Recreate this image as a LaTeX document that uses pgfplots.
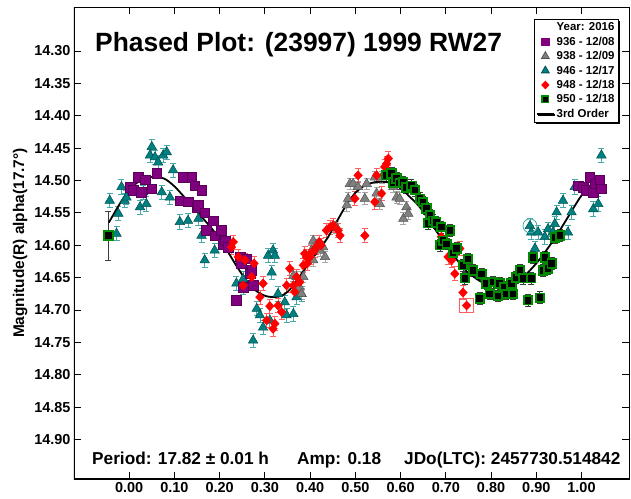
\documentclass[border=0pt]{standalone}
\usepackage{fontspec}
\setmainfont{Liberation Sans}
\usepackage{pgfplots}
\pgfplotsset{compat=1.18}
\usetikzlibrary{shadows}
\definecolor{purp}{RGB}{128,0,128}
\definecolor{purpE}{RGB}{190,120,190}
\definecolor{grayF}{RGB}{128,128,128}
\definecolor{grayD}{RGB}{85,85,85}
\definecolor{grayE}{RGB}{165,165,165}
\definecolor{tealF}{RGB}{0,128,128}
\definecolor{tealD}{RGB}{0,80,80}
\definecolor{tealE}{RGB}{70,170,170}
\definecolor{redF}{RGB}{255,0,0}
\definecolor{redE}{RGB}{255,95,95}
\definecolor{grn}{RGB}{0,140,0}
\definecolor{grnE}{RGB}{60,60,60}
\newcommand\fs[1]{\fontsize{#1}{#1}\selectfont\bfseries}

\begin{document}
\begin{tikzpicture}
\begin{axis}[
  scale only axis, width=555bp, height=472bp,
  xmin=-0.122, xmax=1.105, ymin=14.232, ymax=14.961, y dir=reverse,
  xtick={0,0.1,0.2,0.3,0.4,0.5,0.6,0.7,0.8,0.9,1.0},
  ytick={14.30,14.35,14.40,14.45,14.50,14.55,14.60,14.65,14.70,14.75,14.80,14.85,14.90},
  scaled ticks=false,
  tick align=inside, major tick length=7bp,
  tick style={black, line width=0.8bp},
  axis line style={line width=0.8bp},
  /pgf/number format/assume math mode=true,
  xticklabel style={/pgf/number format/.cd, fixed, fixed zerofill, precision=2},
  yticklabel style={/pgf/number format/.cd, fixed, fixed zerofill, precision=2},
  tick label style={font=\fs{14.5}},
  ylabel={Magnitude(R) alpha(17.7°)},
  ylabel style={font=\fs{15.5}},
  legend cell align=left,
  legend style={at={(axis description cs:1,1)}, anchor=north east, xshift=-10bp, yshift=-12bp,
    draw=black, line width=0.8bp, fill=white, font=\fs{11.5},
    inner xsep=2bp, inner ysep=1.5bp, row sep=0.6bp,
    drop shadow={shadow xshift=1.5bp, shadow yshift=-1.5bp, fill=black, opacity=1},
    legend image code/.code={\draw[#1,mark repeat=2,mark phase=2] plot coordinates {(0bp,0bp) (8.5bp,0bp) (17bp,0bp)};}},
]
\addlegendimage{empty legend}\addlegendentry{Year: 2016}
\addlegendimage{only marks, mark=square*, mark size=3.8bp, mark options={fill=purp, draw=purp}}\addlegendentry{936 - 12/08}
\addlegendimage{only marks, mark=triangle*, mark size=4.5bp, mark options={fill=grayF, draw=grayD}}\addlegendentry{938 - 12/09}
\addlegendimage{only marks, mark=triangle*, mark size=4.5bp, mark options={fill=tealF, draw=tealD}}\addlegendentry{946 - 12/17}
\addlegendimage{only marks, mark=diamond*, mark size=3.8bp, mark options={fill=redF, draw=redF, xscale=1.25}}\addlegendentry{948 - 12/18}
\addlegendimage{only marks, mark=square*, mark size=3.3bp, mark options={fill=black, draw=grn, line width=1.5bp}}\addlegendentry{950 - 12/18}
\addlegendimage{black, line width=1.6bp}\addlegendentry{3rd Order}

% 946 - 12/17
\addplot[forget plot, only marks, mark=triangle*, mark size=5.5bp,
  mark options={fill=tealF, draw=tealD, line width=0.5bp},
  error bars/.cd, y dir=both, y fixed=0.011,
  error bar style={tealE, line width=0.8bp},
  error mark options={tealE, mark size=3bp, line width=0.8bp, rotate=90}]
coordinates {
(-0.043,14.531) (-0.028,14.582) (-0.024,14.551) (-0.017,14.510) (-0.010,14.531)
(-0.006,14.526) (0.024,14.541) (0.031,14.518) (0.038,14.536) (0.046,14.461)
(0.050,14.448) (0.057,14.464) (0.064,14.472) (0.072,14.518) (0.075,14.461)
(0.083,14.456) (0.090,14.526) (0.097,14.484) (0.112,14.564) (0.130,14.562)
(0.153,14.559) (0.160,14.585) (0.167,14.623) (0.189,14.608) (0.237,14.659)
(0.252,14.652) (0.252,14.665) (0.274,14.747) (0.282,14.698) (0.289,14.708)
(0.296,14.727) (0.307,14.616) (0.311,14.716) (0.315,14.642) (0.318,14.608)
(0.322,14.616) (0.329,14.675) (0.344,14.688) (0.348,14.708) (0.363,14.706)
(0.370,14.680) (0.381,14.675)
(0.886,14.570) (0.889,14.580) (0.897,14.605) (0.904,14.580) (0.919,14.587)
(0.926,14.575) (0.937,14.580) (0.941,14.567) (0.945,14.549) (0.959,14.531)
(0.970,14.580) (0.978,14.549) (0.985,14.510) (1.026,14.544) (1.037,14.536)
(1.044,14.461)
};

% 938 - 12/09
\addplot[forget plot, only marks, mark=triangle*, mark size=5.5bp,
  mark options={fill=grayF, draw=grayD, line width=0.5bp},
  error bars/.cd, y dir=both, y fixed=0.009,
  error bar style={grayE, line width=0.8bp},
  error mark options={grayE, mark size=3bp, line width=0.8bp, rotate=90}]
coordinates {
(0.363,14.647) (0.370,14.649) (0.377,14.665) (0.381,14.675) (0.385,14.649)
(0.403,14.608) (0.407,14.593) (0.407,14.623) (0.414,14.600) (0.422,14.608)
(0.429,14.603) (0.433,14.618) (0.458,14.572) (0.481,14.538) (0.484,14.528)
(0.488,14.505) (0.495,14.505) (0.506,14.510) (0.521,14.528) (0.525,14.505)
(0.543,14.495) (0.547,14.520) (0.554,14.536) (0.558,14.495) (0.584,14.510)
(0.591,14.526) (0.598,14.528) (0.606,14.559) (0.613,14.541) (0.617,14.551)
};

% 936 - 12/08
\addplot[forget plot, only marks, mark=square*, mark size=4.8bp,
  mark options={fill=purp, draw=purp!70!black, line width=0.5bp},
  error bars/.cd, y dir=both, y fixed=0.006,
  error bar style={purpE, line width=0.8bp},
  error mark options={purpE, mark size=3bp, line width=0.8bp, rotate=90}]
coordinates {
(0.002,14.510) (0.009,14.515) (0.020,14.495) (0.027,14.518) (0.035,14.499)
(0.050,14.513) (0.061,14.489) (0.112,14.531) (0.119,14.495) (0.130,14.533)
(0.138,14.495) (0.145,14.508) (0.149,14.541) (0.153,14.538) (0.160,14.515)
(0.167,14.550) (0.171,14.577) (0.186,14.562) (0.189,14.585) (0.204,14.577)
(0.208,14.598) (0.212,14.593) (0.219,14.603) (0.237,14.685) (0.245,14.618)
(0.248,14.628) (0.252,14.665) (0.260,14.621) (0.267,14.644) (0.271,14.639)
(0.274,14.662)
(0.993,14.508) (1.004,14.510) (1.011,14.515) (1.018,14.495) (1.026,14.518)
(1.029,14.505) (1.040,14.500) (1.044,14.513)
};

% 948 - 12/18
\addplot[forget plot, only marks, mark=diamond*, mark size=4.6bp,
  mark options={fill=redF, draw=redF, line width=0.4bp, xscale=1.25},
  error bars/.cd, y dir=both, y fixed=0.011,
  error bar style={redE, line width=0.8bp},
  error mark options={redE, mark size=3bp, line width=0.8bp, rotate=90}]
coordinates {
(0.226,14.603) (0.230,14.595) (0.241,14.618) (0.252,14.662) (0.256,14.623)
(0.271,14.649) (0.276,14.628) (0.289,14.680) (0.296,14.659) (0.304,14.716)
(0.311,14.694) (0.318,14.729) (0.322,14.721) (0.329,14.693) (0.337,14.703)
(0.348,14.662) (0.355,14.636) (0.363,14.662) (0.366,14.672) (0.370,14.649)
(0.377,14.657) (0.385,14.631) (0.388,14.613) (0.392,14.618) (0.394,14.628)
(0.400,14.618) (0.403,14.611) (0.410,14.608) (0.414,14.603) (0.420,14.595)
(0.424,14.600) (0.436,14.577) (0.444,14.572) (0.451,14.569) (0.462,14.577)
(0.466,14.585) (0.499,14.528) (0.506,14.492) (0.521,14.585) (0.543,14.533)
(0.547,14.492) (0.558,14.520) (0.565,14.479) (0.569,14.474) (0.573,14.466)
(0.690,14.587) (0.694,14.595) (0.705,14.618) (0.709,14.618) (0.713,14.623)
(0.720,14.644) (0.731,14.605) (0.738,14.673) (0.746,14.693)
};

% 950 - 12/18
\addplot[forget plot, only marks, mark=square*, mark size=4.2bp,
  mark options={fill=black, draw=grn, line width=1.9bp},
  error bars/.cd, y dir=both, y fixed=0.009,
  error bar style={grnE, line width=0.8bp},
  error mark options={grnE, mark size=3bp, line width=0.8bp, rotate=90}]
coordinates {
(0.569,14.492) (0.580,14.489) (0.584,14.503) (0.591,14.497) (0.598,14.504)
(0.606,14.503) (0.613,14.511) (0.624,14.508) (0.632,14.515) (0.643,14.528)
(0.650,14.533) (0.657,14.543) (0.661,14.566) (0.665,14.553) (0.672,14.562)
(0.679,14.565) (0.687,14.600) (0.690,14.572) (0.694,14.593) (0.702,14.598)
(0.709,14.577) (0.716,14.612) (0.724,14.605) (0.738,14.631) (0.742,14.651)
(0.749,14.621) (0.760,14.639) (0.775,14.682) (0.779,14.644) (0.790,14.659)
(0.797,14.675) (0.805,14.657) (0.816,14.678) (0.819,14.659) (0.830,14.665)
(0.834,14.675) (0.845,14.659) (0.849,14.675) (0.856,14.650) (0.864,14.639)
(0.871,14.651) (0.882,14.685) (0.889,14.651) (0.893,14.619) (0.908,14.681)
(0.915,14.639) (0.919,14.619) (0.926,14.636) (0.934,14.628) (0.941,14.588)
(0.952,14.585)
};
\addplot[forget plot, only marks, mark=square*, mark size=4.2bp,
  mark options={fill=black, draw=grn, line width=1.9bp},
  error bars/.cd, y dir=both, y fixed=0.038,
  error bar style={grnE, line width=0.8bp},
  error mark options={grnE, mark size=3bp, line width=0.8bp, rotate=90}]
coordinates {(-0.046,14.585)};

% outlier rings
\addplot[forget plot, only marks, mark=square, mark size=7bp, mark options={draw=redE, line width=0.8bp}]
coordinates {(0.746,14.693)};
\addplot[forget plot, only marks, mark=o, mark size=7bp, mark options={draw=tealE, line width=0.8bp}]
coordinates {(0.886,14.570)};

% 3rd order fit
\addplot[forget plot, black, line width=1.8bp, smooth] coordinates {
(-0.045,14.565) (-0.02,14.535) (0.00,14.515) (0.02,14.502) (0.04,14.496)
(0.06,14.494) (0.08,14.498) (0.10,14.509) (0.12,14.524) (0.14,14.540)
(0.16,14.556) (0.18,14.572) (0.20,14.590) (0.22,14.612) (0.24,14.635)
(0.26,14.655) (0.28,14.670) (0.30,14.678) (0.32,14.680) (0.34,14.677)
(0.36,14.665) (0.38,14.645) (0.40,14.625) (0.42,14.607) (0.44,14.587)
(0.46,14.562) (0.48,14.538) (0.50,14.519) (0.52,14.508) (0.54,14.503)
(0.56,14.502) (0.58,14.504) (0.60,14.512) (0.62,14.525) (0.64,14.539)
(0.66,14.558) (0.68,14.579) (0.70,14.599) (0.72,14.618) (0.74,14.636)
(0.76,14.648) (0.78,14.657) (0.80,14.662) (0.82,14.665) (0.84,14.664)
(0.86,14.655) (0.88,14.643) (0.90,14.628) (0.92,14.610) (0.94,14.590)
(0.96,14.568) (0.98,14.545) (1.00,14.523) (1.02,14.507) (1.045,14.497)
};

\draw[line width=2bp] (axis description cs:0,1) -- (axis description cs:0,0) -- (axis description cs:1,0);
\node[anchor=base west, inner sep=0pt, font=\fs{26.5}] at (axis description cs:0.0378,0.9047) {Phased Plot: (23997) 1999 RW27};
\node[anchor=base west, inner sep=0pt, font=\fs{17.3}] at (axis description cs:0.0324,0.0297) {Period: 17.82 ± 0.01 h};
\node[anchor=base west, inner sep=0pt, font=\fs{17.3}] at (axis description cs:0.4018,0.0297) {Amp: 0.18};
\node[anchor=base west, inner sep=0pt, font=\fs{17.3}] at (axis description cs:0.5946,0.0297) {JDo(LTC): 2457730.514842};
\end{axis}
\pgfresetboundingbox
\path (-74bp,-20bp) rectangle (557bp,479bp);
\end{tikzpicture}
\end{document}
